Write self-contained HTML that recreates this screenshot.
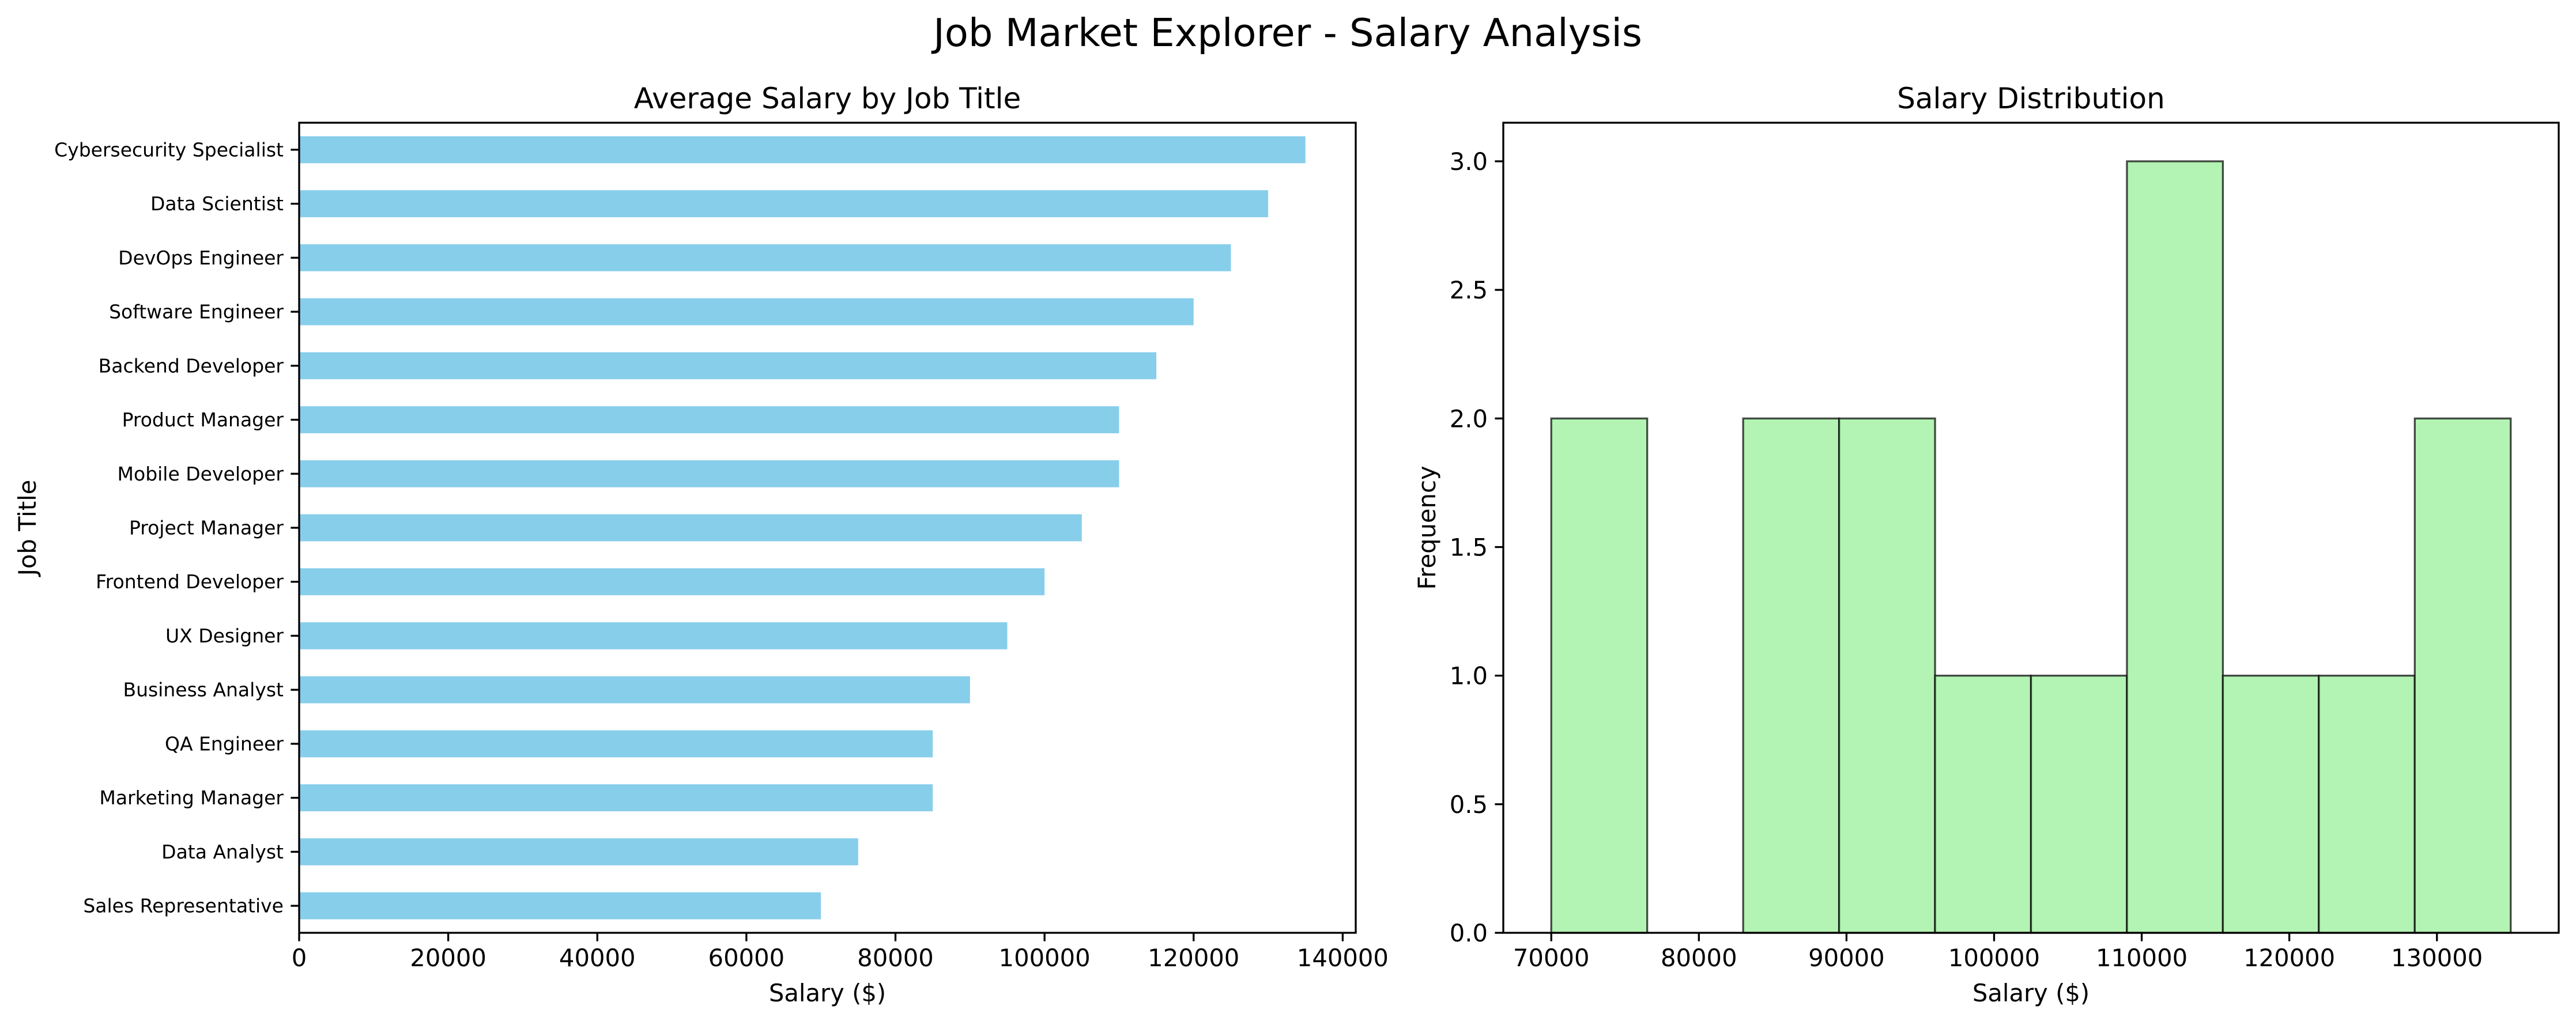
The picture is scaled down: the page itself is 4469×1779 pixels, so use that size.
<!DOCTYPE html>
<html><head><meta charset="utf-8"><style>
html,body{margin:0;padding:0;background:#fff;}
svg{display:block;font-family:"DejaVu Sans","Liberation Sans",sans-serif;}
</style></head><body>
<svg id="fig" width="4469" height="1779" viewBox="0 0 4469 1779" xmlns="http://www.w3.org/2000/svg">
<rect width="4469" height="1779" fill="#fff"/>
<text x="2234" y="80" font-size="67" text-anchor="middle">Job Market Explorer - Salary Analysis</text>
<g id="left"></g>
<g id="right"></g>
</svg>
<script>
const jobTitles = ["Cybersecurity Specialist","Data Scientist","DevOps Engineer","Software Engineer","Backend Developer","Product Manager","Mobile Developer","Project Manager","Frontend Developer","UX Designer","Business Analyst","QA Engineer","Marketing Manager","Data Analyst","Sales Representative"];
const avgSalaries = [135000,130000,125000,120000,115000,110000,110000,105000,100000,95000,90000,85000,85000,75000,70000];
const leftXTicks = [0,20000,40000,60000,80000,100000,120000,140000];
const binEdges = [70000,76500,83000,89500,96000,102500,109000,115500,122000,128500,135000];
const binCounts = [2,0,2,2,1,1,3,1,1,2];
const histXTicks = [70000,80000,90000,100000,110000,120000,130000];
const histYTicks = [0,0.5,1.0,1.5,2.0,2.5,3.0];

const NS="http://www.w3.org/2000/svg";
function mk(parent,tag,attrs,text){const e=document.createElementNS(NS,tag);for(const k in attrs)e.setAttribute(k,attrs[k]);if(text!==undefined)e.textContent=text;parent.appendChild(e);return e;}

// Left chart
const L=document.getElementById('left');
const lx0=519,lx1=2352,ly0=213,ly1=1619;
const lxMax=Math.max(...avgSalaries)*1.05;
const lsx=v=>lx0+(v/lxMax)*(lx1-lx0);
const n=jobTitles.length;
const lsy=i=>ly0+((i+0.5)/n)*(ly1-ly0);
const bandH=(ly1-ly0)/n;
mk(L,'text',{x:(lx0+lx1)/2,y:188,'font-size':50,'text-anchor':'middle',},'Average Salary by Job Title');
jobTitles.forEach((t,i)=>{
  const r=mk(L,'rect',{x:lsx(0),y:lsy(i)-bandH*0.25,width:lsx(avgSalaries[i])-lsx(0),height:bandH*0.5,fill:'#87CEEB'});
  
  
  const tk=mk(L,'line',{x1:lx0-14.6,x2:lx0,y1:lsy(i),y2:lsy(i),stroke:'#000','stroke-width':3.3});
  
  
  const lb=mk(L,'text',{x:lx0-27,y:lsy(i)+11.5,'font-size':33,'text-anchor':'end'},t);
  
  
});
leftXTicks.forEach(v=>{
  const x=lsx(v);
  const tk=mk(L,'line',{x1:x,x2:x,y1:ly1,y2:ly1+14.6,stroke:'#000','stroke-width':3.3});
  
  
  const lb=mk(L,'text',{x:x,y:ly1+58,'font-size':41.7,'text-anchor':'middle'},String(v));
  
  
});
mk(L,'rect',{x:lx0,y:ly0,width:lx1-lx0,height:ly1-ly0,fill:'none',stroke:'#000','stroke-width':3.3,});
mk(L,'text',{x:(lx0+lx1)/2,y:1738,'font-size':41.7,'text-anchor':'middle',},'Salary ($)');
mk(L,'text',{x:0,y:0,'font-size':41.7,'text-anchor':'middle',transform:'translate(62,'+((ly0+ly1)/2)+') rotate(-90)',},'Job Title');

// Right chart
const R=document.getElementById('right');
const rx0=2608,rx1=4439,ry0=213,ry1=1619;
const dmin=binEdges[0],dmax=binEdges[binEdges.length-1],pad=(dmax-dmin)*0.05;
const rsx=v=>rx0+(v-(dmin-pad))/((dmax+pad)-(dmin-pad))*(rx1-rx0);
const rymax=Math.max(...binCounts)*1.05;
const rsy=v=>ry1-(v/rymax)*(ry1-ry0);
mk(R,'text',{x:(rx0+rx1)/2,y:188,'font-size':50,'text-anchor':'middle',},'Salary Distribution');
binCounts.forEach((c,i)=>{
  const r=mk(R,'rect',{x:rsx(binEdges[i]),y:rsy(c),width:rsx(binEdges[i+1])-rsx(binEdges[i]),height:rsy(0)-rsy(c),fill:'#b3f3b3',stroke:'rgba(0,0,0,0.7)','stroke-width':3.3});
  
  
});
histXTicks.forEach(v=>{
  const x=rsx(v);
  const tk=mk(R,'line',{x1:x,x2:x,y1:ry1,y2:ry1+14.6,stroke:'#000','stroke-width':3.3});
  
  
  const lb=mk(R,'text',{x:x,y:ry1+58,'font-size':41.7,'text-anchor':'middle'},String(v));
  
  
});
histYTicks.forEach(v=>{
  const y=rsy(v);
  const tk=mk(R,'line',{x1:rx0-14.6,x2:rx0,y1:y,y2:y,stroke:'#000','stroke-width':3.3});
  
  
  const lb=mk(R,'text',{x:rx0-27,y:y+15,'font-size':41.7,'text-anchor':'end'},v.toFixed(1));
  
  
});
mk(R,'rect',{x:rx0,y:ry0,width:rx1-rx0,height:ry1-ry0,fill:'none',stroke:'#000','stroke-width':3.3,});
mk(R,'text',{x:(rx0+rx1)/2,y:1738,'font-size':41.7,'text-anchor':'middle',},'Salary ($)');
mk(R,'text',{x:0,y:0,'font-size':41.7,'text-anchor':'middle',transform:'translate(2490,'+((ry0+ry1)/2)+') rotate(-90)',},'Frequency');
</script>
</body></html>
